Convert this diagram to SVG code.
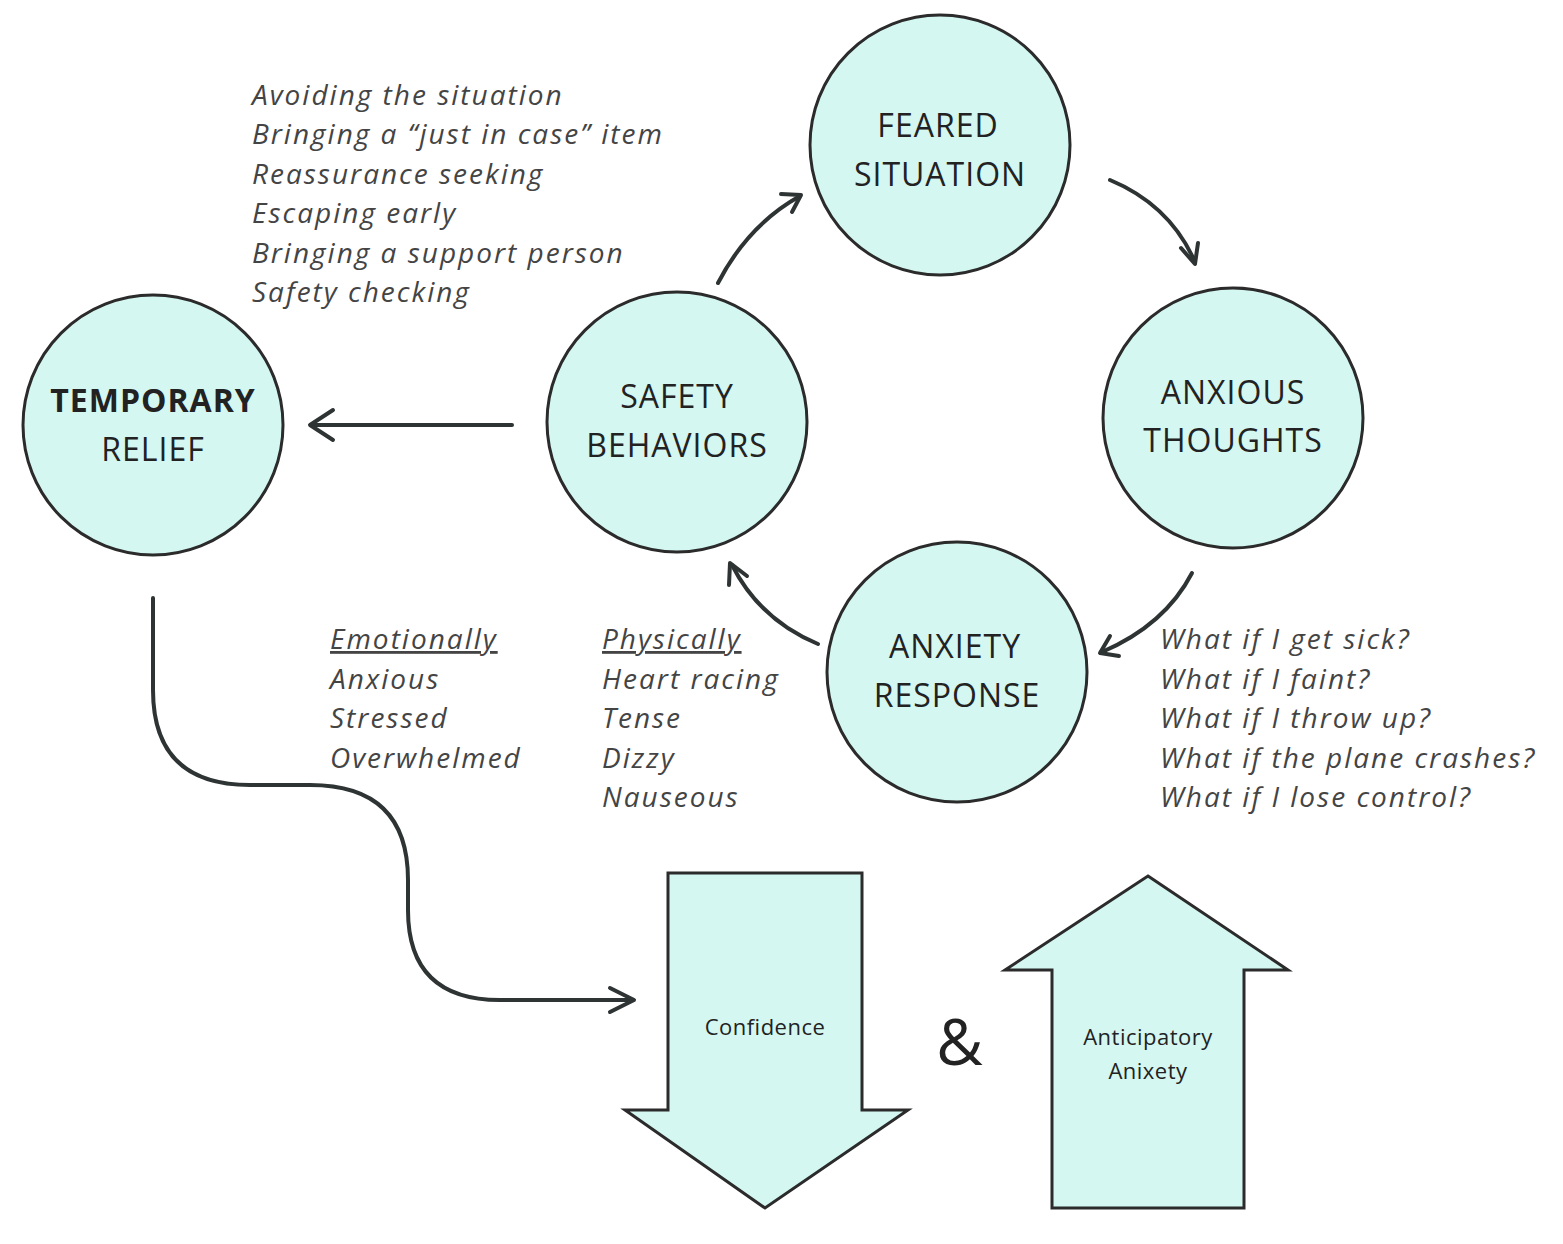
<svg xmlns="http://www.w3.org/2000/svg" width="1563" height="1244" viewBox="0 0 1563 1244">
<style>
.n{fill:#d5f7f2;stroke:#2b2b2b;stroke-width:3}
.t{font-family:"Open Sans","Noto Sans",sans-serif;font-size:32px;fill:#222;text-anchor:middle;letter-spacing:1px}
.s{font-size:22px;letter-spacing:0.5px}
.l{font-family:"Open Sans","Noto Sans",sans-serif;font-size:28px;font-style:italic;fill:#444;letter-spacing:2px}
.c{fill:none;stroke:#2e3333;stroke-width:4;stroke-linecap:round}
.h{fill:none;stroke:#2e3333;stroke-width:4;stroke-linecap:round;stroke-linejoin:round}
</style>
<rect width="1563" height="1244" fill="#fff"/>
<g id="feared"><circle class="n" cx="940" cy="145" r="130"/><text class="t" x="938" y="137">FEARED</text><text class="t" x="940" y="186">SITUATION</text></g>
<g id="anxious"><circle class="n" cx="1233" cy="418" r="130"/><text class="t" x="1233" y="404">ANXIOUS</text><text class="t" x="1233" y="452">THOUGHTS</text></g>
<g id="response"><circle class="n" cx="957" cy="672" r="130"/><text class="t" x="955" y="658">ANXIETY</text><text class="t" x="957" y="707">RESPONSE</text></g>
<g id="safety"><circle class="n" cx="677" cy="422" r="130"/><text class="t" x="677" y="408">SAFETY</text><text class="t" x="677" y="457">BEHAVIORS</text></g>
<g id="relief"><circle class="n" cx="153" cy="425" r="130"/><text class="t" x="153" y="412" font-weight="bold">TEMPORARY</text><text class="t" x="153" y="461">RELIEF</text></g>
<g id="confidence"><path class="n" d="M668 873H862V1110H908L765 1208L625 1110H668Z"/><text class="t s" x="765" y="1035">Confidence</text></g>
<g id="anticipatory"><path class="n" d="M1148 876L1288 970H1244V1208H1052V970H1005Z"/><text class="t s" x="1148" y="1045">Anticipatory</text><text class="t s" x="1148" y="1079">Anixety</text></g>
<text class="t" x="960" y="1065" style="font-size:64px">&amp;</text>
<g id="connectors">
<path class="c" d="M1110 180Q1170 205 1195 262"/><path class="h" d="M1181 248L1195 264L1198 243"/>
<path class="c" d="M1192 573Q1165 625 1102 652"/><path class="h" d="M1110 636L1100 653L1119 656"/>
<path class="c" d="M818 644Q760 620 732 565"/><path class="h" d="M729 585L730 563L747 576"/>
<path class="c" d="M718 283Q748 225 800 196" stroke="#666"/><path class="h" d="M781 194L801 195L792 212" stroke="#666"/>
<path class="c" d="M512 425H312" stroke-width="8"/><path class="h" d="M333 410L310 425L333 440" stroke-width="6"/>
<path class="c" d="M153 598V690Q153 785 250 785H310Q408 785 408 880V910Q408 1000 500 1000H632" stroke-width="7"/><path class="h" d="M610 988L634 1000L610 1012" stroke-width="4"/>
</g>
<g class="l">
<text x="252" y="105">Avoiding the situation</text>
<text x="252" y="144">Bringing a “just in case” item</text>
<text x="252" y="184">Reassurance seeking</text>
<text x="252" y="223">Escaping early</text>
<text x="252" y="263">Bringing a support person</text>
<text x="252" y="302">Safety checking</text>
<text x="330" y="649" text-decoration="underline">Emotionally</text>
<text x="330" y="689">Anxious</text>
<text x="330" y="728">Stressed</text>
<text x="330" y="768">Overwhelmed</text>
<text x="602" y="649" text-decoration="underline">Physically</text>
<text x="602" y="689">Heart racing</text>
<text x="602" y="728">Tense</text>
<text x="602" y="768">Dizzy</text>
<text x="602" y="807">Nauseous</text>
<text x="1160" y="649">What if I get sick?</text>
<text x="1160" y="689">What if I faint?</text>
<text x="1160" y="728">What if I throw up?</text>
<text x="1160" y="768">What if the plane crashes?</text>
<text x="1160" y="807">What if I lose control?</text>
</g>
</svg>
